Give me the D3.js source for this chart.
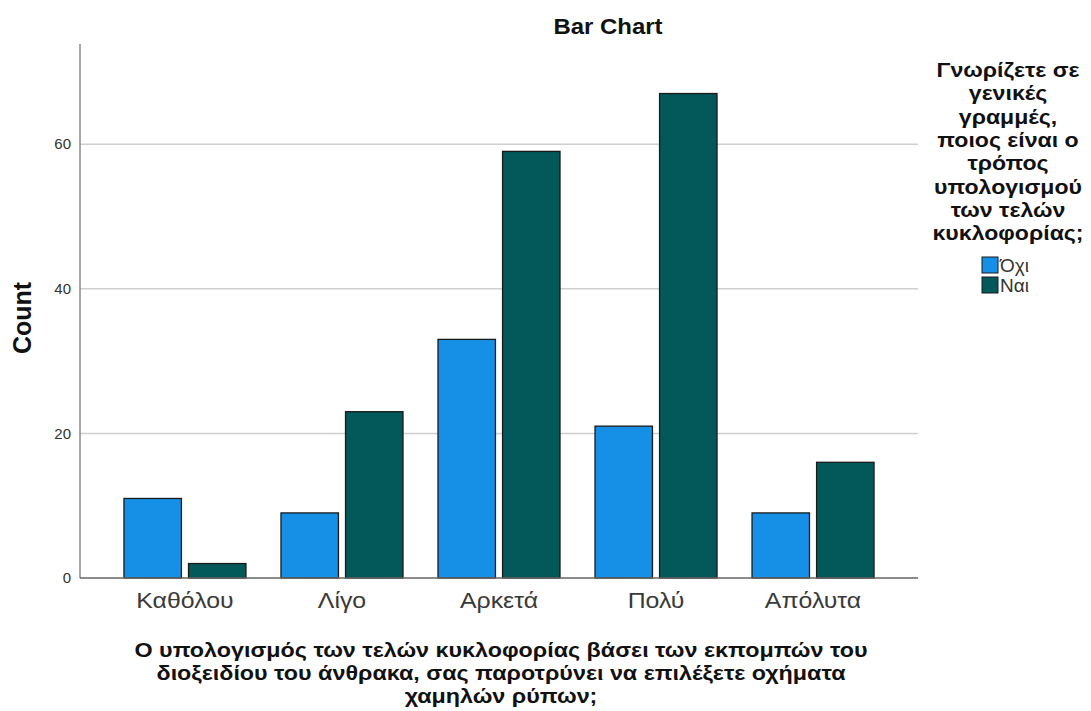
<!DOCTYPE html>
<html>
<head>
<meta charset="utf-8">
<script src="https://cdn.jsdelivr.net/npm/d3@7"></script>
<style>
  body { margin: 0; background: #fff; }
  svg { display: block; font-family: "Liberation Sans", Arial, sans-serif; }
</style>
</head>
<body>
<svg id="chart" width="1091" height="711"></svg>
<script>
// Response categories and counts per group
const categories = ["Καθόλου", "Λίγο", "Αρκετά", "Πολύ", "Απόλυτα"];
const groups = ["Όχι", "Ναι"];
const countsNo = [11, 9, 33, 21, 9];
const countsYes = [2, 23, 59, 67, 16];
const yTicks = [0, 20, 40, 60];
const groupColors = ["#1690e6", "#03585a"];

const chartTitle = "Bar Chart";
const yTitle = "Count";
const xTitleLines = [
  "Ο υπολογισμός των τελών κυκλοφορίας βάσει των εκπομπών του",
  "διοξειδίου του άνθρακα, σας παροτρύνει να επιλέξετε οχήματα",
  "χαμηλών ρύπων;"
];
const legendTitleLines = [
  "Γνωρίζετε σε", "γενικές", "γραμμές,", "ποιος είναι ο",
  "τρόπος", "υπολογισμού", "των τελών", "κυκλοφορίας;"
];

const rows = categories.map((c, i) => ({ cat: c, values: [countsNo[i], countsYes[i]] }));

const svg = d3.select("#chart");
const plot = { left: 80, right: 918, top: 44, bottom: 578 };

const x = d3.scaleBand().domain(categories).range([plot.left, plot.right])
  .paddingInner(0.223).paddingOuter(0.28);
const xInner = d3.scaleBand().domain(groups).range([0, x.bandwidth()]).paddingInner(0.11);
const y = d3.scaleLinear().domain([0, 73.85]).range([plot.bottom, plot.top]);
const color = d3.scaleOrdinal().domain(groups).range(groupColors);

// text helper: slightly widened glyphs, anchored at (px, py)
function label(parent, px, py, str, size, opts = {}) {
  const g = parent.append("g")
    .attr("transform", `translate(${px},${py}) scale(${opts.sx || 1},1)${opts.rotate ? ` rotate(${opts.rotate})` : ""}`);
  return g.append("text")
    .attr("text-anchor", opts.anchor || "middle")
    .attr("font-size", size)
    .attr("font-weight", opts.bold ? "bold" : "normal")
    .attr("fill", opts.fill || "#111")
    .text(str);
}

// gridlines
svg.append("g").selectAll("line").data(yTicks.filter(d => d > 0)).join("line")
  .attr("x1", plot.left).attr("x2", plot.right)
  .attr("y1", d => y(d)).attr("y2", d => y(d))
  .attr("stroke", "#cfcfcf").attr("stroke-width", 1.5);

// bars
svg.append("g").selectAll("g").data(rows).join("g")
  .attr("transform", d => `translate(${x(d.cat)},0)`)
  .selectAll("rect").data(d => d.values.map((v, i) => ({ g: groups[i], v })))
  .join("rect")
  .attr("x", d => xInner(d.g)).attr("width", xInner.bandwidth())
  .attr("y", d => y(d.v)).attr("height", d => y(0) - y(d.v))
  .attr("fill", d => color(d.g))
  .attr("stroke", "#1a1a1a").attr("stroke-width", 1.3);

// y axis
const yAxis = svg.append("g").attr("transform", `translate(${plot.left},0)`)
  .call(d3.axisLeft(y).tickValues(yTicks).tickSize(0).tickPadding(9));
yAxis.select(".domain").attr("stroke", "#8a8a8a").attr("stroke-width", 1.5)
  .attr("d", `M0,${plot.top}V${plot.bottom}`);
yAxis.selectAll("text").attr("font-size", 15).attr("fill", "#333")
  .attr("font-family", "Liberation Sans, Arial, sans-serif");

// x axis
const xAxis = svg.append("g").attr("transform", `translate(0,${plot.bottom})`)
  .call(d3.axisBottom(x).tickSize(0).tickPadding(14));
xAxis.select(".domain").attr("stroke", "#666").attr("stroke-width", 1.3)
  .attr("d", `M${plot.left},0H${plot.right}`);
xAxis.selectAll("text").attr("font-size", 22).attr("fill", "#3a3a3a")
  .attr("transform", "scale(1.13,1)")
  .attr("font-family", "Liberation Sans, Arial, sans-serif");

// titles
label(svg, 608, 34, chartTitle, 22, { bold: true, sx: 1.09 });
label(svg, 31, 318, yTitle, 25, { bold: true, rotate: -90, sx: 1 });

xTitleLines.forEach((t, i) => label(svg, 501, 657 + i * 23, t, 21, { bold: true, sx: 1.11 }));

// legend
const legend = svg.append("g");
legendTitleLines.forEach((t, i) => label(legend, 1008, 77 + i * 23.3, t, 21, { bold: true, sx: 1.1 }));

const items = legend.selectAll("g.item").data(groups).join("g").attr("class", "item")
  .attr("transform", (d, i) => `translate(982,${257 + i * 20})`);
items.append("rect").attr("width", 16).attr("height", 16)
  .attr("fill", d => color(d)).attr("stroke", "#1a1a1a").attr("stroke-width", 1);
items.append("text").attr("x", 18).attr("y", 15).attr("font-size", 19)
  .attr("fill", "#333").text(d => d);
</script>
</body>
</html>
